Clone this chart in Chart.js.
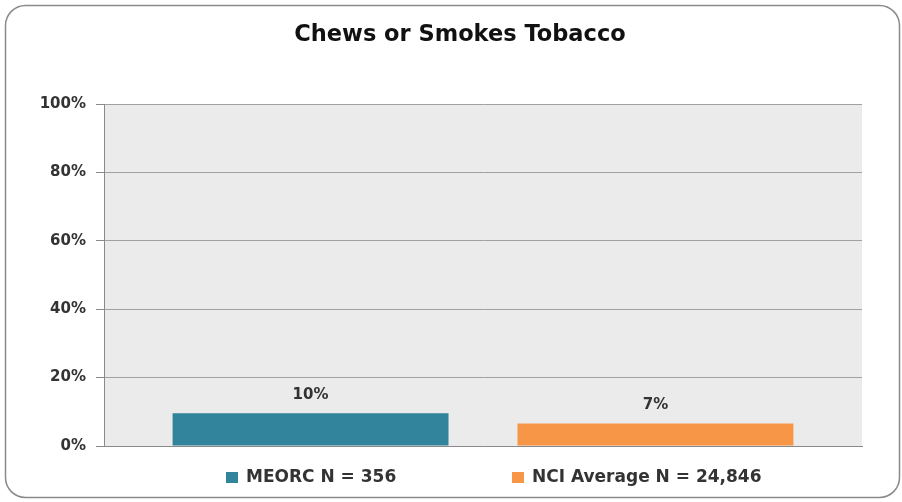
<!DOCTYPE html>
<html>
<head>
<meta charset="utf-8">
<script src="https://cdn.jsdelivr.net/npm/chart.js@4/dist/chart.umd.min.js"></script>
<style>
  html, body { margin: 0; padding: 0; background: #fff; }
  canvas { display: block; }
</style>
</head>
<body>
<canvas id="tobaccoChart" width="902" height="502"></canvas>
<script>
const chartTitle = "Chews or Smokes Tobacco";
const categories = ["Chews or Smokes Tobacco"];
const seriesNames = ["MEORC N = 356", "NCI Average N = 24,846"];
const meorcValues = [9.6];
const nciValues = [6.6];
const seriesColors = ["#31849B", "#F79646"];
const yTicks = [0, 20, 40, 60, 80, 100];

const fontFamily = "'DejaVu Sans', sans-serif";

// frame, title and grey plot background
const backdrop = {
  id: "backdrop",
  beforeDraw(chart) {
    const { ctx, chartArea } = chart;
    ctx.save();
    ctx.fillStyle = "#fff";
    ctx.fillRect(0, 0, chart.width, chart.height);
    ctx.strokeStyle = "#8a8a8a";
    ctx.lineWidth = 1.5;
    ctx.beginPath();
    ctx.roundRect(5.5, 5.5, 894, 492, 20);
    ctx.stroke();
    ctx.fillStyle = "#EBEBEB";
    ctx.fillRect(chartArea.left, chartArea.top, chartArea.width, chartArea.height);
    // title sits a bit right of the canvas centre, like the original
    ctx.font = "bold 22.5px " + fontFamily;
    ctx.fillStyle = "#111";
    ctx.textAlign = "center";
    ctx.textBaseline = "middle";
    ctx.fillText(chartTitle, 460, 35);
    ctx.restore();
  },
};

// value labels over the bars
const valueLabels = {
  id: "valueLabels",
  afterDatasetsDraw(chart) {
    const { ctx } = chart;
    ctx.save();
    ctx.font = "bold 15px " + fontFamily;
    ctx.fillStyle = "#333";
    ctx.textAlign = "center";
    ctx.textBaseline = "middle";
    chart.data.datasets.forEach((ds, i) => {
      chart.getDatasetMeta(i).data.forEach((bar, j) => {
        ctx.fillText(Math.round(ds.data[j]) + "%", bar.x, bar.y - 18);
      });
    });
    ctx.restore();
  },
};

// legend under the plot
const legendX = [226, 512];
const bottomLegend = {
  id: "bottomLegend",
  afterDraw(chart) {
    const { ctx } = chart;
    ctx.save();
    ctx.font = "bold 17px " + fontFamily;
    ctx.textBaseline = "middle";
    chart.data.datasets.forEach((ds, i) => {
      const x = legendX[i];
      ctx.fillStyle = ds.backgroundColor;
      ctx.fillRect(x, 472, 12, 11);
      ctx.fillStyle = "#333";
      ctx.fillText(ds.label, x + 20, 478);
    });
    ctx.restore();
  },
};

new Chart(document.getElementById("tobaccoChart"), {
  type: "bar",
  data: {
    labels: categories,
    datasets: [
      {
        label: seriesNames[0],
        data: meorcValues,
        backgroundColor: seriesColors[0],
        categoryPercentage: 0.91,
        barPercentage: 0.8,
      },
      {
        label: seriesNames[1],
        data: nciValues,
        backgroundColor: seriesColors[1],
        categoryPercentage: 0.91,
        barPercentage: 0.8,
      },
    ],
  },
  options: {
    responsive: false,
    animation: false,
    layout: { padding: { left: 0, right: 40, top: 104, bottom: 56 } },
    plugins: {
      legend: { display: false },
      tooltip: { enabled: false },
      title: { display: false },
    },
    scales: {
      x: {
        grid: { display: false },
        ticks: { display: false },
        border: { display: true, color: "#8a8a8a" },
        afterFit(scale) {
          scale.height = 0;
        },
      },
      y: {
        min: 0,
        max: 100,
        afterBuildTicks(scale) {
          scale.ticks = yTicks.map((v) => ({ value: v }));
        },
        afterFit(scale) {
          scale.width = 104;
        },
        ticks: {
          padding: 10,
          color: "#333",
          font: { family: fontFamily, size: 15, weight: "bold" },
          callback: (v) => v + "%",
        },
        grid: { color: "#a0a0a0", tickLength: 8, tickColor: "#8a8a8a" },
        border: { display: true, color: "#8a8a8a" },
      },
    },
  },
  plugins: [backdrop, valueLabels, bottomLegend],
});
</script>
</body>
</html>
